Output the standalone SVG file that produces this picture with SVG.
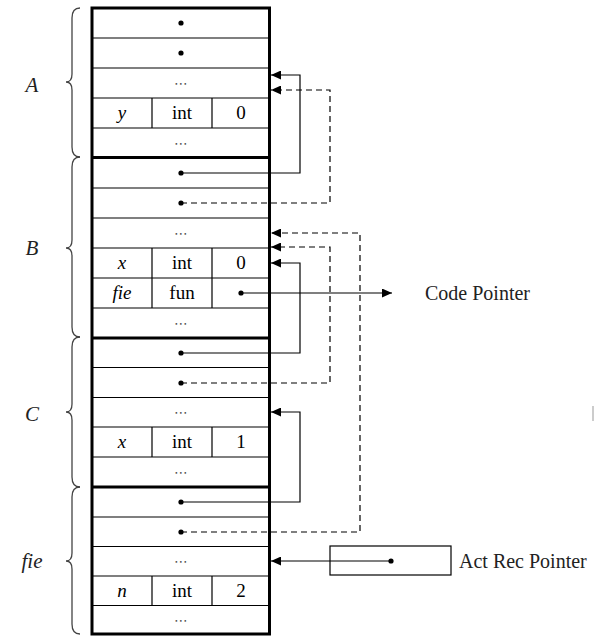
<svg xmlns="http://www.w3.org/2000/svg" width="596" height="636" viewBox="0 0 596 636">
<defs>
<style>
.thin{stroke:#000;stroke-width:1.2;fill:none}
.thick{stroke:#000;stroke-width:3;fill:none}
.brace{stroke:#444;stroke-width:1.3;fill:none}
.t{font-family:"Liberation Serif",serif;font-size:19px;fill:#000;text-anchor:middle}
.it{font-family:"Liberation Serif",serif;font-style:italic;font-size:19px;fill:#000;text-anchor:middle}
.lab{font-family:"Liberation Serif",serif;font-style:italic;font-size:21px;fill:#222;text-anchor:middle}
.dots{font-family:"DejaVu Sans",sans-serif;font-size:14px;fill:#555;text-anchor:middle}
.side{font-family:"Liberation Serif",serif;font-size:20px;fill:#222}
.solid{stroke:#000;stroke-width:1.2;fill:none;marker-end:url(#ah)}
.dash{stroke:#000;stroke-width:1.2;fill:none;stroke-dasharray:6 4;marker-end:url(#ah)}
</style>
<marker id="ah" viewBox="0 0 10 9" refX="10" refY="4.5" markerWidth="10" markerHeight="9" markerUnits="userSpaceOnUse" orient="auto">
<path d="M0,0 L10,4.5 L0,9 Z" fill="#000"/>
</marker>
</defs>
<rect width="596" height="636" fill="#fff"/>

<g id="frame-A">
<path class="brace" d="M80,8 Q72,8 72,18 L72,74 Q72,82 66,82 Q72,82 72,90 L72,147 Q72,157 80,157"/>
<text class="lab" x="32" y="92">A</text>
<path class="thin" d="M92,38H269.5M92,68H269.5M92,98H269.5M92,128H269.5M152,98V128M212,98V128"/>
<circle cx="181" cy="23" r="2.6"/>
<circle cx="181" cy="53" r="2.6"/>
<text class="dots" x="181" y="88">⋯</text>
<text class="it" x="122" y="119">y</text>
<text class="t" x="182" y="119">int</text>
<text class="t" x="241" y="119">0</text>
<text class="dots" x="181" y="148">⋯</text>
</g>

<g id="frame-B">
<path class="brace" d="M80,157 Q72,157 72,167 L72,240 Q72,248 66,248 Q72,248 72,256 L72,327 Q72,337 80,337"/>
<text class="lab" x="32" y="255">B</text>
<path class="thin" d="M92,188H269.5M92,218H269.5M92,248H269.5M92,278H269.5M92,308H269.5M152,248V308M212,248V308"/>
<circle cx="181" cy="173" r="2.6"/>
<circle cx="181" cy="203" r="2.6"/>
<text class="dots" x="181" y="238">⋯</text>
<text class="it" x="122" y="269">x</text>
<text class="t" x="182" y="269">int</text>
<text class="t" x="241" y="269">0</text>
<text class="it" x="122" y="299">fie</text>
<text class="t" x="182" y="299">fun</text>
<circle cx="241" cy="293" r="2.6"/>
<text class="dots" x="181" y="328">⋯</text>
</g>

<g id="frame-C">
<path class="brace" d="M80,337 Q72,337 72,347 L72,404 Q72,412 66,412 Q72,412 72,420 L72,477 Q72,487 80,487"/>
<text class="lab" x="32" y="421">C</text>
<path class="thin" d="M92,367.5H269.5M92,397.5H269.5M92,427H269.5M92,457H269.5M152,427V457M212,427V457"/>
<circle cx="181" cy="353" r="2.6"/>
<circle cx="181" cy="383" r="2.6"/>
<text class="dots" x="181" y="417">⋯</text>
<text class="it" x="122" y="448">x</text>
<text class="t" x="182" y="448">int</text>
<text class="t" x="241" y="448">1</text>
<text class="dots" x="181" y="477">⋯</text>
</g>

<g id="frame-fie">
<path class="brace" d="M80,487 Q72,487 72,497 L72,553 Q72,561 66,561 Q72,561 72,569 L72,624 Q72,634 80,634"/>
<text class="lab" x="32" y="568">fie</text>
<path class="thin" d="M92,517H269.5M92,546.5H269.5M92,576H269.5M92,605.5H269.5M152,576V605.5M212,576V605.5"/>
<circle cx="181" cy="502" r="2.6"/>
<circle cx="181" cy="532" r="2.6"/>
<text class="dots" x="181" y="566">⋯</text>
<text class="it" x="122" y="597">n</text>
<text class="t" x="182" y="597">int</text>
<text class="t" x="241" y="597">2</text>
<text class="dots" x="181" y="625">⋯</text>
</g>

<g id="stack-border">
<rect class="thick" x="92" y="8" width="177.5" height="626"/>
<path class="thick" d="M92,157.5H269.5M92,338H269.5M92,487H269.5"/>
</g>

<g id="act-rec-pointer">
<rect class="thin" x="330" y="546" width="121" height="29"/>
<circle cx="391" cy="561" r="2.6"/>
<text class="side" x="459" y="568">Act Rec Pointer</text>
</g>

<g id="code-pointer">
<text class="side" x="425" y="300">Code Pointer</text>
</g>

<g id="connectors">
<path class="solid" d="M181,173H300V75H271"/>
<path class="dash" d="M181,203H330V90H271"/>
<path class="dash" d="M181,532H360V233H271"/>
<path class="dash" d="M181,383H330V247H271"/>
<path class="solid" d="M181,353H300V263H271"/>
<path class="solid" d="M181,502H300V412H271"/>
<path class="solid" d="M241,293H392"/>
<path class="solid" d="M391,561H271"/>
</g>

<path d="M593,406V421" stroke="#aaa" stroke-width="1.2"/>
</svg>
